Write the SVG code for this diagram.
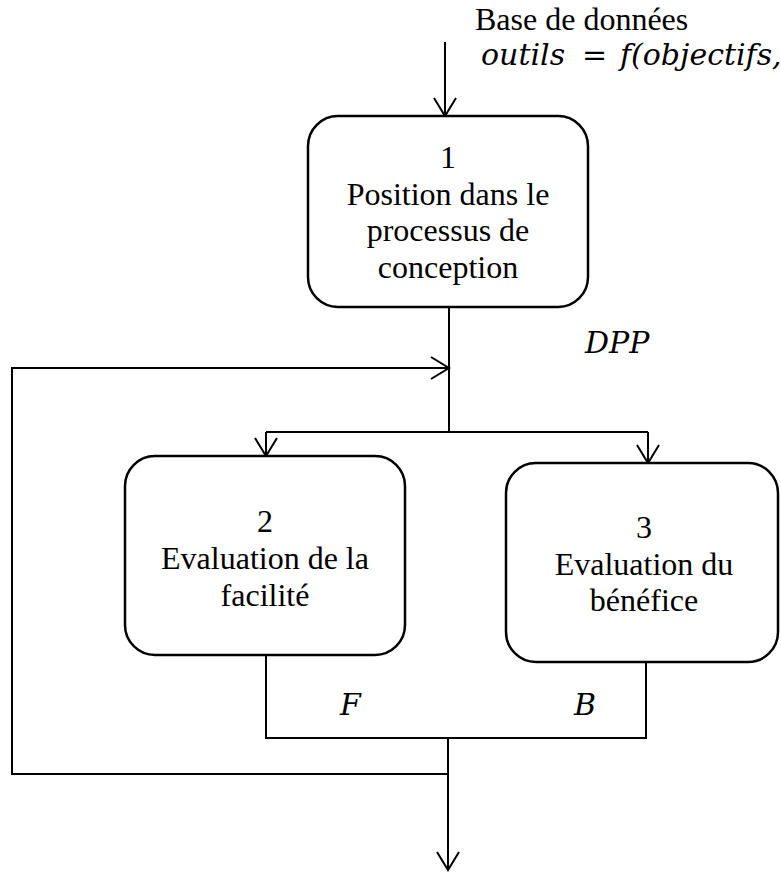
<svg xmlns="http://www.w3.org/2000/svg" width="781" height="872" viewBox="0 0 781 872">
<style>
.box{fill:#fff;stroke:#000;stroke-width:2.5}
.t{font-family:"Liberation Serif","Times New Roman",serif;font-size:32px;fill:#000;text-anchor:middle}
.m{font-family:"DejaVu Serif",serif;font-style:italic;font-size:30px;fill:#000}
.c{fill:none;stroke:#000;stroke-width:2}
</style>
<defs>
<marker id="arr" viewBox="0 0 22 24" refX="20" refY="12" markerWidth="22" markerHeight="24" orient="auto" markerUnits="userSpaceOnUse">
<path d="M2,1 L20,12 L2,23" fill="none" stroke="#000" stroke-width="2"/>
</marker>
</defs>
<rect width="781" height="872" fill="#fff"/>
<g id="input-label">
<text class="m" y="65" style="font-size:30px"><tspan x="481">outils</tspan><tspan x="582">=</tspan><tspan x="620">f(objectifs,</tspan></text>
<text class="t" x="475" y="30" style="text-anchor:start">Base de données</text>
</g>
<g id="connectors">
<line class="c" x1="445" y1="42" x2="445" y2="116" marker-end="url(#arr)"/>
<polyline class="c" points="449,307 449,432"/>
<polyline class="c" points="266,432 648,432"/>
<line class="c" x1="266" y1="432" x2="266" y2="456" marker-end="url(#arr)"/>
<line class="c" x1="648" y1="432" x2="648" y2="463" marker-end="url(#arr)"/>
<polyline class="c" points="266,655 266,738 646,738 646,662"/>
<line class="c" x1="448" y1="738" x2="448" y2="870" marker-end="url(#arr)"/>
<polyline class="c" points="448,774 12,774 12,368 449,368" marker-end="url(#arr)"/>
<text class="m" x="585" y="353">DPP</text>
<text class="m" x="340" y="715">F</text>
<text class="m" x="574" y="715">B</text>
</g>
<g id="node1">
<rect class="box" x="308" y="116" width="280" height="191" rx="30"/>
<text class="t" x="448" y="168">1</text>
<text class="t" x="448" y="205">Position dans le</text>
<text class="t" x="448" y="241">processus de</text>
<text class="t" x="448" y="278">conception</text>
</g>
<g id="node2">
<rect class="box" x="125" y="456" width="280" height="199" rx="30"/>
<text class="t" x="265" y="532">2</text>
<text class="t" x="265" y="569">Evaluation de la</text>
<text class="t" x="265" y="606">facilité</text>
</g>
<g id="node3">
<rect class="box" x="506" y="463" width="272" height="199" rx="30"/>
<text class="t" x="644" y="538">3</text>
<text class="t" x="644" y="575">Evaluation du</text>
<text class="t" x="644" y="611">bénéfice</text>
</g>
</svg>
